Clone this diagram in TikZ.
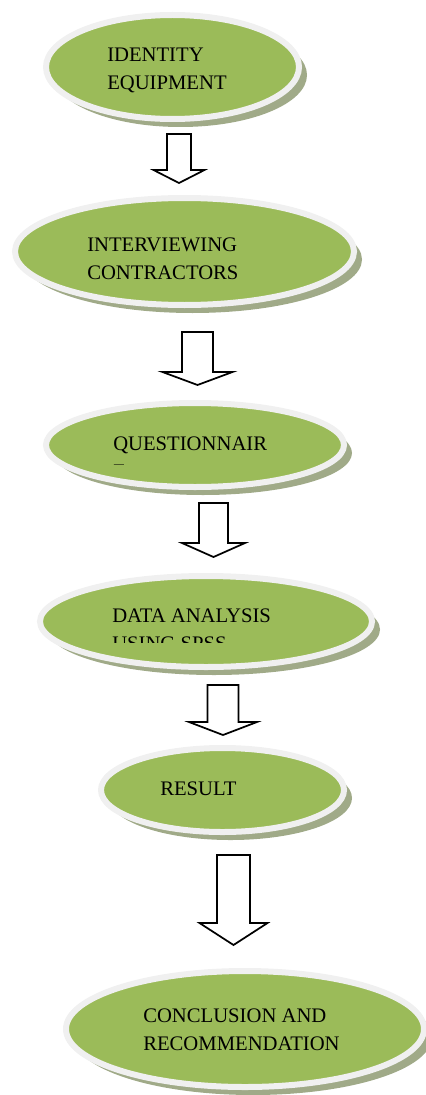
\documentclass[tikz,border=0pt]{standalone}
\usepackage{fontspec}
\setmainfont{Liberation Serif}
\usetikzlibrary{shapes}
\usetikzlibrary{shadows}
\definecolor{stagegreen}{HTML}{9BBB59}
\definecolor{stagerim}{HTML}{F0F0F0}
\definecolor{stageshade}{HTML}{A0AA88}
\tikzset{
    stage/.style = {ellipse, line width=4.5pt, draw=stagerim, fill=stagegreen, inner sep=0pt,
        drop shadow={shadow xshift=6pt, shadow yshift=-6pt, fill=stageshade, opacity=1}},
    stagetext/.style = {anchor=base west, inner sep=0pt, align=left, font=\fontsize{15.5}{21}\selectfont},
    blockarrow/.style = {draw=black, line width=1.3pt, fill=white, line join=miter}
}
% centre x, top, shaft half width, head base, head half width, tip
\newcommand{\flowarrow}[6]{%
  \draw[blockarrow] (#1-#3,#2) -- (#1+#3,#2) -- (#1+#3,#4) -- (#1+#5,#4)
    -- (#1,#6) -- (#1-#5,#4) -- (#1-#3,#4) -- cycle;}

\begin{document}
\begin{tikzpicture}[x=0.75pt,y=-0.75pt]
\useasboundingbox (0,0) rectangle (425,1095);
%
\node[stage, minimum width=189.75pt, minimum height=78pt] at (172.5,67) (s1) {};
\node[stage, minimum width=254.25pt, minimum height=80.25pt] at (184.5,251.5) (s2) {};
\node[stage, minimum width=223.5pt, minimum height=63pt] at (195,445) (s3) {};
\node[stage, minimum width=249pt, minimum height=68.25pt] at (206,621.5) (s4) {};
\node[stage, minimum width=182.25pt, minimum height=63pt] at (222.5,790) (s5) {};
\node[stage, minimum width=268.5pt, minimum height=87pt] at (245,1029) (s6) {};
%
\node[stagetext] at (107,90) (t1) {IDENTITY\\EQUIPMENT};
\node[stagetext] at (87,279) (t2) {INTERVIEWING\\CONTRACTORS};
\begin{scope}
  \clip (40,410) rectangle (350,464.5);
  \node[stagetext] at (113,478) (t3) {QUESTIONNAIR\\E};
\end{scope}
\begin{scope}
  \clip (40,580) rectangle (375,642);
  \node[stagetext] at (112,650) (t4) {DATA ANALYSIS\\USING SPSS};
\end{scope}
\node[stagetext] at (160,795) (t5) {RESULT};
\node[stagetext] at (143,1050) (t6) {CONCLUSION AND\\RECOMMENDATION};
%
\flowarrow{179}{134}{12}{170}{25.5}{183}
\flowarrow{197.5}{332}{15.5}{372}{35}{385}
\flowarrow{213.5}{503}{14.5}{543}{31.5}{557}
\flowarrow{223}{685}{15.5}{722}{34}{735}
\flowarrow{233.5}{855}{16.5}{923}{34}{945}

\end{tikzpicture}
\end{document}
